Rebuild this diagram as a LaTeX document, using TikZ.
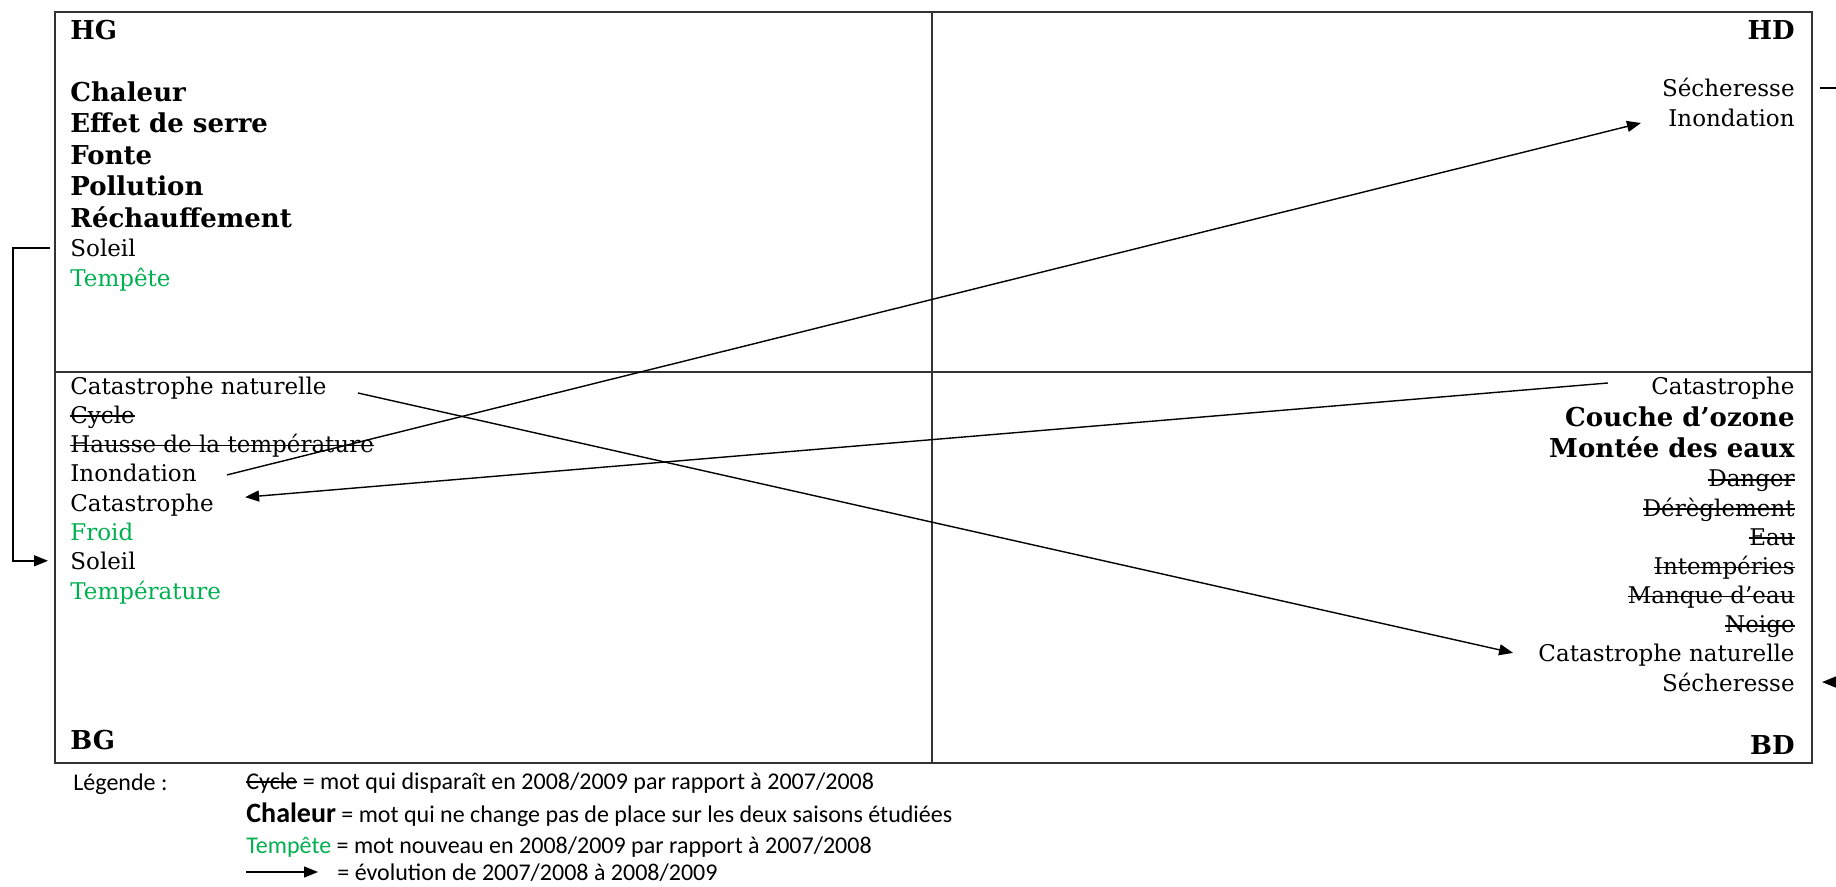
\documentclass[tikz,border=0pt]{standalone}
\usepackage{fontspec}
\setmainfont{DejaVu Serif}
\newfontfamily\legfont{Carlito}
\usepackage{xcolor}
\usetikzlibrary{arrows.meta}
\definecolor{newgreen}{RGB}{0,176,80}

% struck-out word
\newcommand\barre[1]{\leavevmode\setbox0\hbox{#1}\rlap{\rule[0.27em]{\wd0}{0.07em}}\box0}

\tikzset{
  plain/.style={font=\fontsize{11.5}{13}\selectfont, inner sep=0pt, text height=10pt, text depth=1pt},
  keep/.style={font=\fontsize{13}{15}\selectfont\bfseries, inner sep=0pt, text height=11pt, text depth=1.5pt},
  leg/.style={font=\legfont\fontsize{12}{14}\selectfont, inner sep=0pt, anchor=west, text height=9.5pt, text depth=1.5pt},
  arr/.style={-{Triangle[length=7pt,width=5.5pt]}, line width=0.7pt},
  tbl/.style={line width=1pt, black!80}
}

\begin{document}
\begin{tikzpicture}[x=0.5pt,y=-0.5pt]
	
	\useasboundingbox (0,0) rectangle (1836,887);
	
	% the four boxes
	\draw[tbl] (55,12) rectangle (1812,763);
	\draw[tbl] (932,12) -- (932,763);
	\draw[tbl] (55,372) -- (1812,372);
	
	% corner labels
	\node[keep,anchor=west] (lhg) at (70,30) {HG};
	\node[keep,anchor=east] (lhd) at (1795,30) {HD};
	\node[keep,anchor=west] (lbg) at (70,740) {BG};
	\node[keep,anchor=east] (lbd) at (1795,745) {BD};
	
	% HG
	\foreach \t [count=\i] in {Chaleur, Effet de serre, Fonte, Pollution, Réchauffement}
		\node[keep,anchor=west] (hg\i) at (70,{92+31.5*(\i-1)}) {\t};
	\node[plain,anchor=west] (hg6) at (70,248) {Soleil};
	\node[plain,anchor=west] (hg7) at (70,278) {\textcolor{newgreen}{Tempête}};
	
	% HD
	\node[plain,anchor=east] (hd1) at (1795,88) {Sécheresse};
	\node[plain,anchor=east] (hd2) at (1795,118) {Inondation};
	
	% BG
	\foreach \t [count=\i] in {Catastrophe naturelle, \barre{Cycle}, \barre{Hausse de la température}, Inondation, Catastrophe, \textcolor{newgreen}{Froid}, Soleil, \textcolor{newgreen}{Température}}
		\node[plain,anchor=west] (bg\i) at (70,{385+29.3*(\i-1)}) {\t};
	
	% BD
	\node[plain,anchor=east] (bd1) at (1795,385) {Catastrophe};
	\node[keep,anchor=east] (bd2) at (1795,417) {Couche d’ozone};
	\node[keep,anchor=east] (bd3) at (1795,448) {Montée des eaux};
	\foreach \t [count=\i from 4] in {\barre{Danger}, \barre{Dérèglement}, \barre{Eau}, \barre{Intempéries}, \barre{Manque d’eau}, \barre{Neige}, Catastrophe naturelle, Sécheresse}
		\node[plain,anchor=east] (bd\i) at (1795,{478+29.15*(\i-4)}) {\t};
	
	% evolutions
	\draw[arr] ([xshift=15pt,yshift=-1pt]bg4.east) -- ([xshift=-13.5pt,yshift=-2.5pt]hd2.west);
	\draw[arr] ([xshift=15.5pt,yshift=-4pt]bg1.east) -- ([xshift=-12.5pt]bd10.west);
	\draw[arr] ([xshift=-21.5pt,yshift=1pt]bd1.west) -- ([xshift=15.5pt,yshift=2.5pt]bg5.east);
	\draw[arr] ([xshift=-10pt]hg6.west) -- ++(-18.5pt,0) |- ([xshift=-11pt]bg7.west);
	\draw[arr] ([xshift=12.5pt]hd1.east) -- ++(30pt,0) |- ([xshift=13.5pt]bd11.east);
	
	% legend
	\node[leg] (leg0) at (73,782) {Légende :};
	\node[leg] (leg1) at (246,781) {\barre{Cycle}~= mot qui disparaît en 2008/2009 par rapport à 2007/2008};
	\node[leg] (leg2) at (246,814) {{\bfseries\fontsize{14}{16}\selectfont Chaleur}~= mot qui ne change pas de place sur les deux saisons étudiées};
	\node[leg] (leg3) at (246,845) {\textcolor{newgreen}{Tempête}~= mot nouveau en 2008/2009 par rapport à 2007/2008};
	\coordinate (legA) at (246,872);
	\node[leg] (leg4) at (337,872) {= évolution de 2007/2008 à 2008/2009};
	\draw[arr] (legA) -- ([xshift=-9.5pt]leg4.west);
	
\end{tikzpicture}
\end{document}
